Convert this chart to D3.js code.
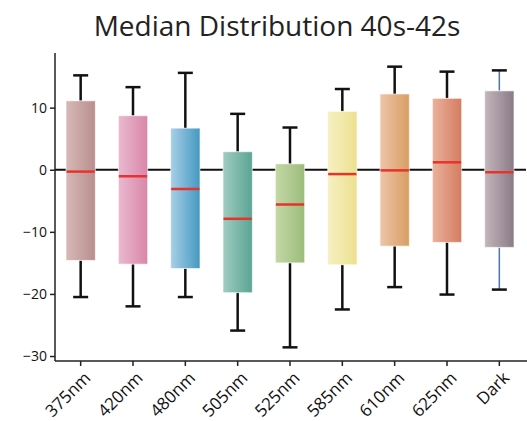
<!DOCTYPE html>
<html>
<head>
<meta charset="utf-8">
<script src="https://cdn.jsdelivr.net/npm/d3@7"></script>
<style>
  body { margin: 0; background: #fff; }
  svg { display: block; font-family: "Open Sans", sans-serif; }
</style>
</head>
<body>
<svg id="chart" width="527" height="421"></svg>
<script>
const categories = ["375nm", "420nm", "480nm", "505nm", "525nm", "585nm", "610nm", "625nm", "Dark"];
const whiskerHigh = [15.2, 13.3, 15.6, 9.0, 6.8, 13.0, 16.6, 15.8, 16.0];
const q3 = [11.1, 8.7, 6.7, 2.9, 0.95, 9.4, 12.2, 11.5, 12.7];
const medians = [-0.3, -1.05, -3.1, -7.9, -5.6, -0.7, -0.1, 1.2, -0.4];
const q1 = [-14.6, -15.2, -15.9, -19.8, -15.0, -15.3, -12.3, -11.7, -12.5];
const whiskerLow = [-20.5, -22.0, -20.5, -25.9, -28.6, -22.5, -18.9, -20.1, -19.3];
const colorsLeft = ["#d6b9b7", "#eab9d0", "#a8d0e6", "#a0ccc0", "#c4d8a6", "#f6f0c2", "#eec4aa", "#eab29c", "#c4b6bc"];
const colorsRight = ["#b88e8d", "#d886a7", "#4498c2", "#5aa494", "#9cbc7c", "#ede08e", "#d89e62", "#d47c62", "#8a7a86"];
const yTicks = [10, 0, -10, -20, -30];

const svg = d3.select("#chart");
const plotLeft = 55, plotRight = 526, plotTop = 53, plotBottom = 361;

const data = categories.map((c, i) => ({
  name: c, hi: whiskerHigh[i], q3: q3[i], med: medians[i], q1: q1[i], lo: whiskerLow[i], i
}));

const x = d3.scaleBand().domain(categories).range([54.5, 525.5]);
const y = d3.scaleLinear().domain([-30.8, 18.8]).range([plotBottom, plotTop]);

const boxW = x.bandwidth() * 0.56;
const capW = 15;
const cx = d => x(d.name) + x.bandwidth() / 2;

// gradients
const defs = svg.append("defs");
data.forEach(d => {
  const grad = defs.append("linearGradient")
    .attr("id", "grad" + d.i)
    .attr("x1", 0).attr("x2", 1).attr("y1", 0).attr("y2", 0);
  grad.append("stop").attr("offset", "0%").attr("stop-color", colorsLeft[d.i]);
  grad.append("stop").attr("offset", "100%").attr("stop-color", colorsRight[d.i]);
});

// title
svg.append("text")
  .attr("x", 277)
  .attr("y", 36)
  .attr("text-anchor", "middle")
  .attr("font-size", 28)
  .attr("fill", "#222")
  .text("Median Distribution 40s-42s");

// zero line
svg.append("line")
  .attr("x1", plotLeft).attr("x2", plotRight)
  .attr("y1", y(0)).attr("y2", y(0))
  .attr("stroke", "#111").attr("stroke-width", 2);

const g = svg.append("g");
const box = g.selectAll("g.box").data(data).enter().append("g").attr("class", "box");

const whiskerColor = d => d.name === "Dark" ? "#4a76b2" : "#111";

box.append("line")
  .attr("x1", cx).attr("x2", cx)
  .attr("y1", d => y(d.hi)).attr("y2", d => y(d.q3))
  .attr("stroke", whiskerColor).attr("stroke-width", d => d.name === "Dark" ? 1.5 : 2.5);

box.append("line")
  .attr("x1", cx).attr("x2", cx)
  .attr("y1", d => y(d.q1)).attr("y2", d => y(d.lo))
  .attr("stroke", whiskerColor).attr("stroke-width", d => d.name === "Dark" ? 1.5 : 2.5);

box.append("line")
  .attr("x1", d => cx(d) - capW / 2).attr("x2", d => cx(d) + capW / 2)
  .attr("y1", d => y(d.hi)).attr("y2", d => y(d.hi))
  .attr("stroke", "#111").attr("stroke-width", 2.5);

box.append("line")
  .attr("x1", d => cx(d) - capW / 2).attr("x2", d => cx(d) + capW / 2)
  .attr("y1", d => y(d.lo)).attr("y2", d => y(d.lo))
  .attr("stroke", "#111").attr("stroke-width", 2.5);

box.append("rect")
  .attr("x", d => cx(d) - boxW / 2)
  .attr("width", boxW)
  .attr("y", d => y(d.q3))
  .attr("height", d => y(d.q1) - y(d.q3))
  .attr("fill", d => `url(#grad${d.i})`)
  .attr("stroke", "#fff").attr("stroke-opacity", 0.6).attr("stroke-width", 1);

box.append("line")
  .attr("x1", d => cx(d) - boxW / 2 + 0.5).attr("x2", d => cx(d) + boxW / 2 - 0.5)
  .attr("y1", d => y(d.med)).attr("y2", d => y(d.med))
  .attr("stroke", "#e8322c").attr("stroke-width", 2.5);

// axes
const yAxis = svg.append("g")
  .attr("transform", `translate(${plotLeft},0)`)
  .call(d3.axisLeft(y).tickValues(yTicks).tickSize(5).tickPadding(3).tickFormat(d3.format("d")));
yAxis.select(".domain").attr("d", `M0,${plotTop}V${plotBottom}`).attr("stroke", "#222").attr("stroke-width", 1.5);
yAxis.selectAll(".tick line").attr("stroke", "#222").attr("stroke-width", 1.5);
yAxis.selectAll(".tick text")
  .attr("font-size", 14).attr("fill", "#111").attr("font-family", "'Open Sans', sans-serif")
  .text(d => d < 0 ? "\u2212" + Math.abs(d) : d);

const xAxis = svg.append("g")
  .attr("transform", `translate(0,${plotBottom})`)
  .call(d3.axisBottom(x).tickSize(5).tickSizeOuter(0));
xAxis.select(".domain").attr("d", `M${plotLeft},0H${plotRight + 1}`).attr("stroke", "#222").attr("stroke-width", 1.5);
xAxis.selectAll(".tick line").attr("stroke", "#222").attr("stroke-width", 1.5);
xAxis.selectAll(".tick text")
  .attr("font-size", 17).attr("fill", "#111").attr("font-family", "'Open Sans', sans-serif")
  .attr("text-anchor", "end")
  .attr("dy", null).attr("y", 0)
  .attr("transform", "translate(11,18) rotate(-45)");
</script>
</body>
</html>
